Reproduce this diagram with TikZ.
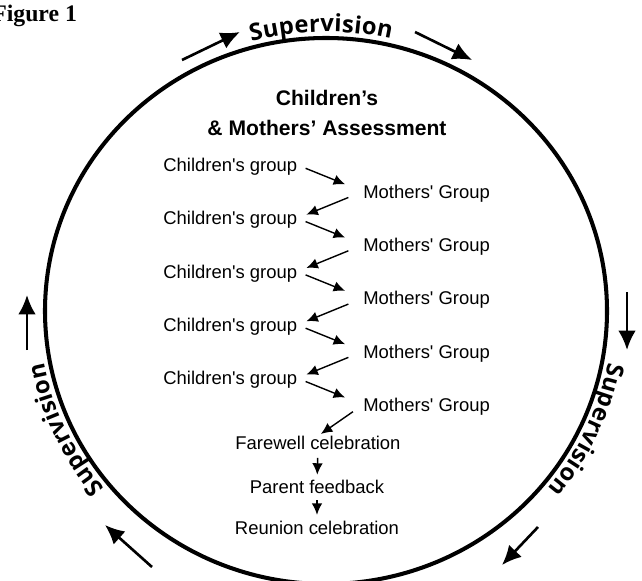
\documentclass[tikz,border=0pt]{standalone}
\usepackage{fontspec}
\setmainfont{Liberation Sans}
\newfontfamily\figfont{Liberation Serif}
\newfontfamily\supfont{Open Sans}
\usetikzlibrary{arrows.meta,decorations.text}

\begin{document}
\begin{tikzpicture}[x=0.02cm, y=0.02cm,
    item/.style={font=\fontsize{10.5}{12}\selectfont, inner sep=0pt, text depth=0pt},
    headline/.style={font=\fontsize{12}{17}\selectfont\bfseries, align=center, inner sep=0pt},
    grp/.style={-{Latex[length=6.5pt,width=6pt]}, line width=0.8pt},
    flow/.style={-{Latex[length=11pt,width=10pt]}, line width=1.5pt},
    suptext/.style={decorate, decoration={text along path, text align=center, raise=3.5pt,
        text={|\supfont\fontsize{13.5}{17}\selectfont\bfseries|Supervision}}}]
    \useasboundingbox (0,0) rectangle (642,-581);
    % big cycle
    \draw[line width=2.3pt] (326,-311) ellipse [x radius=281, y radius=273];
    \path[suptext] (326,-311) ++(133:281 and 273) arc [start angle=133, end angle=49, x radius=281, y radius=273];
    \path[suptext] (326,-311) ++(-5:281 and 273) arc [start angle=-5, end angle=-45, x radius=281, y radius=273];
    \path[suptext] (326,-311) ++(225:281 and 273) arc [start angle=225, end angle=185, x radius=281, y radius=273];
    \draw[flow] (182,-60) -- (240,-32);
    \draw[flow] (415,-32) -- (472,-60);
    \draw[flow] (627,-292) -- (627,-350);
    \draw[flow] (538,-527) -- (502,-565);
    \draw[flow] (152,-567) -- (105,-525);
    \draw[flow] (27,-350) -- (27,-295);
    \node[font=\figfont\fontsize{13.5}{15}\selectfont\bfseries, anchor=west, inner sep=0pt] (fig) at (-8,-16) {Figure 1};
    % groups
    \node[headline] (head) at (327,-113) {Children’s\\\& Mothers’ Assessment};
    \foreach \i in {1,...,5} {
        \node[item, anchor=west] (c\i) at (163, {-165-53.3*(\i-1)}) {Children\textquotesingle s group};
        \node[item, anchor=west] (m\i) at (363, {-191.5-53.3*(\i-1)}) {Mothers\textquotesingle\ Group};
    }
    \foreach \i in {1,...,5}
        \draw[grp, shorten <=5pt, shorten >=11pt] (c\i.east) -- (m\i.west);
    \foreach \i/\j in {1/2,2/3,3/4,4/5}
        \draw[grp, shorten <=9pt, shorten >=5.5pt] (m\i.west) -- (c\j.east);
    \node[item] (fw) at (318,-443) {Farewell celebration};
    \node[item] (pf) at (317,-487) {Parent feedback};
    \node[item] (rc) at (317,-528) {Reunion celebration};
    \draw[grp, shorten <=7pt, shorten >=2pt] (m5.west) -- (fw.north);
    \draw[grp, shorten <=4.5pt, shorten >=3pt] (fw) -- (pf);
    \draw[grp, shorten <=3.5pt, shorten >=3.5pt] (pf) -- (rc);
\end{tikzpicture}
\end{document}
